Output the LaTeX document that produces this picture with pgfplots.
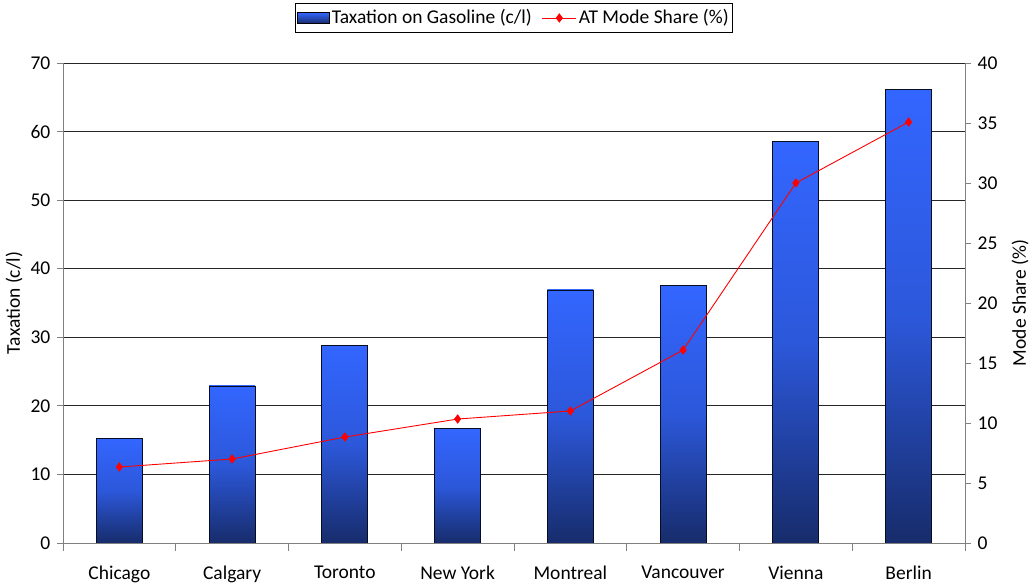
\documentclass[border=0pt]{standalone}
\usepackage{pgfplots}
\pgfplotsset{compat=1.18}
\usepackage{fontspec}
\setmainfont{Carlito}
\definecolor{bartop}{HTML}{3366FF}
\definecolor{barbot}{HTML}{172C6B}
\definecolor{axgray}{HTML}{808080}
\newcommand{\fs}{\fontsize{19.5pt}{23pt}\selectfont}
\pgfplotsset{
  gbar/.style={ybar, bar width=46pt, bar shift=0pt, draw=black!70!barbot, line width=0.8pt,
    top color=bartop, bottom color=barbot, middle color=bartop!75!barbot},
}
\begin{document}
\fs
\begin{tikzpicture}
\begin{axis}[
  name=main,
  scale only axis, width=902pt, height=480pt,
  xmin=-0.5, xmax=7.5, ymin=0, ymax=70,
  ytick={0,10,...,70},
  xtick={0,...,7},
  xticklabels={Chicago,Calgary,Toronto,New York,Montreal,Vancouver,Vienna,Berlin},
  minor xtick={-0.5,0.5,...,7.5},
  major x tick style={draw=none},
  minor x tick style={draw=axgray, line width=0.8pt},
  y tick style={draw=axgray, line width=0.8pt},
  tick align=outside,
  major tick length=6pt, minor tick length=8pt,
  axis x line*=bottom, axis y line*=left,
  axis line style={draw=axgray, line width=0.9pt},
  ymajorgrids, major grid style={draw=black!85, line width=0.8pt},
  /pgf/number format/assume math mode=true,
  tick label style={font=\fs},
  xticklabel style={yshift=-10pt},
  ylabel={Taxation (c/l)},
  y label style={at={(axis description cs:-0.0543,0.5)}, anchor=center, font=\fs},
]
\addplot[gbar] coordinates {(0,15.2)};
\addplot[gbar] coordinates {(1,22.9)};
\addplot[gbar] coordinates {(2,28.8)};
\addplot[gbar] coordinates {(3,16.7)};
\addplot[gbar] coordinates {(4,36.9)};
\addplot[gbar] coordinates {(5,37.6)};
\addplot[gbar] coordinates {(6,58.5)};
\addplot[gbar] coordinates {(7,66.1)};
\end{axis}
\begin{axis}[
  scale only axis, width=902pt, height=480pt,
  xmin=-0.5, xmax=7.5, ymin=0, ymax=40,
  ytick={0,5,...,40},
  axis x line=none, axis y line*=right,
  axis line style={draw=axgray, line width=0.9pt},
  y tick style={draw=axgray, line width=0.8pt},
  tick align=outside, major tick length=6pt,
  /pgf/number format/assume math mode=true,
  tick label style={font=\fs},
  ylabel={Mode Share (\%)},
  y label style={at={(axis description cs:1.061,0.5)}, anchor=center, font=\fs},
  legend style={at={(axis description cs:0.5,1)}, anchor=south, yshift=30pt, legend columns=2,
    draw=black, line width=0.8pt, font=\fs, inner xsep=1.5pt, inner ysep=4pt,
    /tikz/every even column/.append style={column sep=8pt}},
  legend cell align=left,
]
\addlegendimage{legend image code/.code={\draw[draw=black, line width=0.6pt, top color=bartop, bottom color=barbot] (0pt,-5.5pt) rectangle (32pt,5.5pt);}}
\addlegendentry{Taxation on Gasoline (c/l)}
\addplot[red, line width=0.9pt, mark=diamond*, mark size=4.3pt, mark options={fill=red, draw=red, line width=0.5pt},
  legend image code/.code={\draw[red, line width=0.9pt] (0pt,0pt) -- (34pt,0pt); \fill[red] (17pt,0pt) +(0,4pt) -- +(3pt,0) -- +(0,-4pt) -- +(-3pt,0) -- cycle;}]
  coordinates {(0,6.33) (1,7.0) (2,8.83) (3,10.33) (4,11.0) (5,16.08) (6,30.0) (7,35.08)};
\addlegendentry{AT Mode Share (\%)}
\end{axis}
\pgfresetboundingbox
\path ([xshift=-63pt,yshift=-43pt]main.south west) rectangle ([xshift=64pt,yshift=63pt]main.north east);
\end{tikzpicture}
\end{document}
